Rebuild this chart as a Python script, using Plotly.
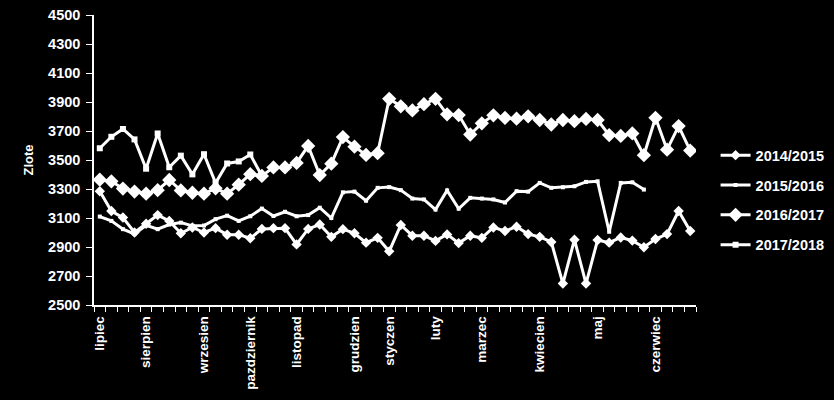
import plotly.graph_objects as go

# ---- data (weekly prices, zł) ----
s_2014_2015 = [3285, 3148, 3103, 3000, 3060, 3120, 3080, 2995, 3035, 3000,
               3030, 2985, 2985, 2960, 3025, 3030, 3030, 2918, 3025, 3055,
               2970, 3023, 2995, 2930, 2963, 2870, 3052, 2978, 2978, 2942,
               2987, 2927, 2978, 2963, 3035, 3010, 3040, 2989, 2970, 2935,
               2648, 2950, 2648, 2948, 2930, 2966, 2944, 2898, 2955, 2989,
               3148, 3010]
s_2015_2016 = [3110, 3080, 3023, 2990, 3050, 3023, 3055, 3068, 3046, 3048,
               3092, 3116, 3080, 3112, 3165, 3114, 3143, 3112, 3120, 3171,
               3100, 3277, 3282, 3219, 3308, 3313, 3292, 3234, 3228, 3158,
               3290, 3164, 3239, 3234, 3228, 3207, 3285, 3282, 3342, 3308,
               3312, 3319, 3349, 3353, 3005, 3342, 3346, 3296]
s_2016_2017 = [3364, 3353, 3303, 3282, 3268, 3292, 3362, 3290, 3274, 3268,
               3305, 3268, 3330, 3402, 3390, 3449, 3449, 3480, 3597, 3396,
               3475, 3658, 3592, 3535, 3547, 3922, 3870, 3842, 3885, 3922,
               3815, 3810, 3676, 3753, 3808, 3790, 3785, 3801, 3776, 3745,
               3776, 3768, 3783, 3776, 3672, 3666, 3683, 3533, 3791, 3571,
               3734, 3565]
s_2017_2018 = [3581, 3660, 3714, 3642, 3440, 3683, 3450, 3530, 3401, 3540,
               3342, 3476, 3490, 3538, 3390]

series_names = ["2014/2015", "2015/2016", "2016/2017", "2017/2018"]
n_weeks = 52
month_labels = ["lipiec", "sierpien", "wrzesien", "pazdziernik", "listopad",
                "grudzien", "styczen", "luty", "marzec", "kwiecien", "maj", "czerwiec"]
month_week = [0, 4, 9, 13, 17, 22, 25, 29, 33, 38, 43, 48]
y_ticks = list(range(2500, 4501, 200))

FONT = "Liberation Sans"
styles = [
    dict(symbol="diamond", size=8),
    dict(symbol="square", size=4),
    dict(symbol="diamond", size=11),
    dict(symbol="square", size=6),
]

fig = go.Figure()
for name, vals, st in zip(series_names,
                          [s_2014_2015, s_2015_2016, s_2016_2017, s_2017_2018],
                          styles):
    fig.add_trace(go.Scatter(
        x=list(range(len(vals))), y=vals, name=name, mode="lines+markers",
        legendgroup=name,
        line=dict(color="white", width=3),
        marker=dict(color="white", symbol=st["symbol"], size=st["size"],
                    line=dict(width=0)),
    ))

fig.update_layout(
    width=834, height=400,
    paper_bgcolor="black", plot_bgcolor="black",
    margin=dict(l=94, r=138, t=15, b=95, autoexpand=False),
    font=dict(family=FONT, color="white", size=13, weight="bold"),
    showlegend=True,
    legend=dict(xref="container", yref="container",
                x=0.858, xanchor="left", y=0.652, yanchor="top",
                bgcolor="rgba(0,0,0,0)", tracegroupgap=8,
                font=dict(family=FONT, size=14.5, color="white", weight="bold")),
    xaxis=dict(
        range=[-0.5, n_weeks - 0.5], showgrid=False, zeroline=False,
        showline=True, linecolor="white", linewidth=1.5,
        tickmode="array", tickvals=month_week, ticktext=month_labels,
        ticks="", tickangle=-90, ticklabelstandoff=4,
        tickfont=dict(family=FONT, size=13.5, color="white", weight="bold"),
        minor=dict(tickmode="array",
                   tickvals=[i - 0.5 for i in range(n_weeks + 1)],
                   ticks="outside", ticklen=5, tickcolor="white", tickwidth=1,
                   showgrid=False),
    ),
    yaxis=dict(
        range=[2500, 4500], showgrid=False, zeroline=False,
        showline=True, linecolor="white", linewidth=1.5,
        tickmode="array", tickvals=y_ticks,
        ticks="outside", ticklen=6, tickcolor="white", tickwidth=1,
        ticklabelstandoff=3,
        tickfont=dict(family=FONT, size=14.5, color="white", weight="bold"),
        title=dict(text="Zlote", standoff=12,
                   font=dict(family=FONT, size=13, color="white", weight="bold")),
    ),
)

fig.write_html(
    "out.html",
    config={"displayModeBar": False},
    post_script="document.body.style.margin='0';document.body.style.background='black';",
)
